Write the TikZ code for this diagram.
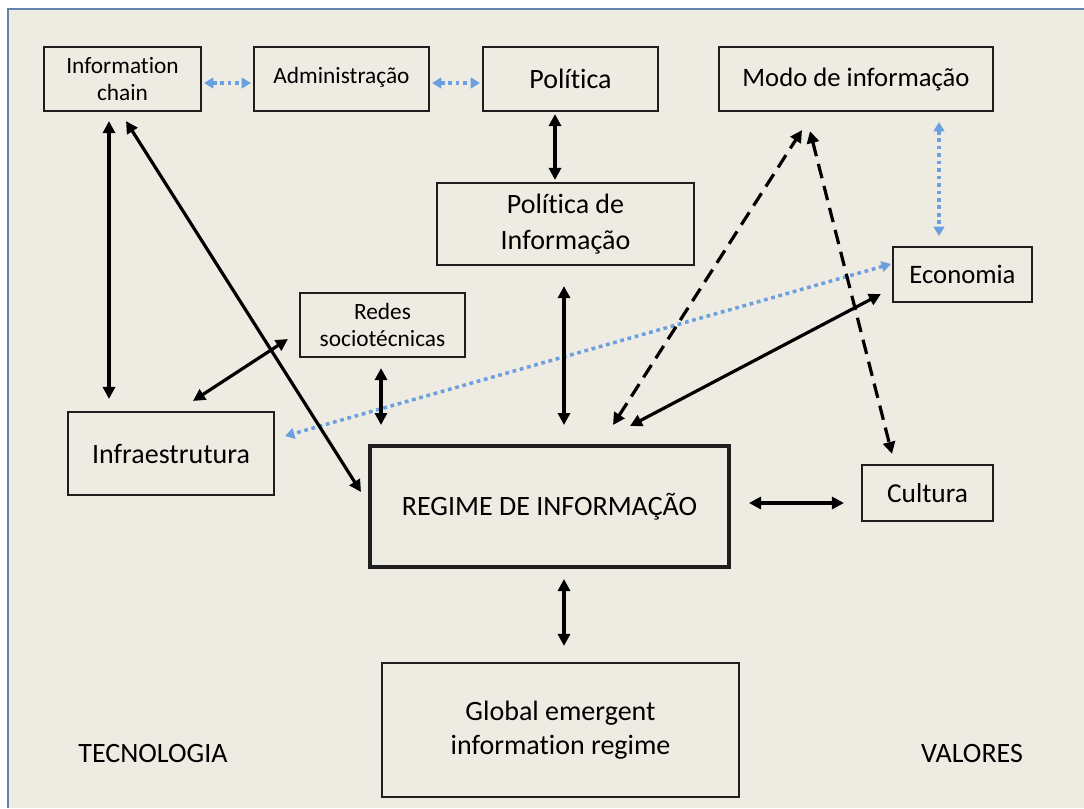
\documentclass[tikz,border=0pt]{standalone}
\usepackage{fontspec}
\setmainfont{Carlito}[Ligatures=NoCommon]
\usetikzlibrary{arrows.meta,calc}
\definecolor{bg}{HTML}{EEEBE3}
\definecolor{framec}{HTML}{6582AA}
\definecolor{bluedot}{HTML}{6A9FE0}
\definecolor{boxc}{HTML}{1E1E1E}
\begin{document}
\begin{tikzpicture}[x=0.75pt,y=-0.75pt,
  box/.style={draw=boxc, line width=1.6pt, inner sep=0pt, align=center, font=\fontsize{21}{27}\selectfont},
  small/.style={font=\fontsize{17.5}{20}\selectfont},
  arr/.style={line width=2.4pt, black, {Triangle[length=9pt,width=9pt]}-{Triangle[length=9pt,width=9pt]}},
  dsh/.style={arr, dash pattern=on 11pt off 6pt},
  bdot/.style={line width=2.6pt, bluedot, dash pattern=on 2.8pt off 2.8pt, {Triangle[length=7pt,width=8pt]}-{Triangle[length=7pt,width=8pt]}},
  lbl/.style={font=\fontsize{21}{25}\selectfont, inner sep=0pt}
]
\useasboundingbox (0,0) rectangle (1084,808);
\fill[white] (0,0) rectangle (1084,808);
\fill[bg] (8,9) rectangle (1084,808);
\draw[framec, line width=1.4pt] (8,808) -- (8,9) -- (1084,9);

% nodes
\node[box, small, minimum width=157*0.75pt, minimum height=64*0.75pt] (ic) at (122.5,79) {Information\\chain};
\node[box, small, minimum width=175*0.75pt, minimum height=64*0.75pt, text depth=6pt] (adm) at (341.5,79) {Administração};
\node[box, minimum width=175*0.75pt, minimum height=64*0.75pt] (pol) at (570.5,79) {Política};
\node[box, font=\fontsize{20}{24}\selectfont, minimum width=274*0.75pt, minimum height=64*0.75pt] (modo) at (856,79) {Modo de informação};
\node[box, minimum width=257*0.75pt, minimum height=82*0.75pt] (pdi) at (565.5,224) {Política de\\Informação};
\node[box, small, minimum width=165*0.75pt, minimum height=64*0.75pt] (redes) at (382.5,325) {Redes\\sociotécnicas};
\node[box, font=\fontsize{20}{24}\selectfont, minimum width=139*0.75pt, minimum height=55*0.75pt] (eco) at (962.5,274.5) {Economia};
\node[box, minimum width=206*0.75pt, minimum height=83*0.75pt] (infra) at (171,453.5) {Infraestrutura};
\node[box, line width=3pt, minimum width=359*0.75pt, minimum height=121*0.75pt] (regime) at (549.5,506.5) {REGIME DE INFORMAÇÃO};
\node[box, font=\fontsize{20.5}{24}\selectfont, minimum width=131*0.75pt, minimum height=56*0.75pt] (cult) at (927.5,493) {Cultura};
\node[box, font=\fontsize{21}{25.5}\selectfont, minimum width=357*0.75pt, minimum height=134*0.75pt] (glob) at (560.5,730) {Global emergent\\information regime};
\node[lbl] (tec) at (153,753) {TECNOLOGIA};
\node[lbl] (val) at (972,753) {VALORES};

% blue dotted connectors
\draw[bdot] ([shift={(2,4)}]ic.east) -- ([shift={(-2,4)}]adm.west);
\draw[bdot] ([shift={(2,4)}]adm.east) -- ([shift={(-2,4)}]pol.west);
\draw[bdot] ([shift={(83,10)}]modo.south) -- ([shift={(-23.5,-10)}]eco.north);
\draw[bdot] ([shift={(-1,-10.5)}]eco.west) -- ([shift={(10,-17.5)}]infra.east);

% solid connectors
\draw[arr] ([shift={(-15.5,2)}]pol.south) -- ([shift={(-10.5,-2)}]pdi.north);
\draw[arr] ([shift={(-13.5,9)}]ic.south) -- ([shift={(-62,-12)}]infra.north);
\draw[arr] ([shift={(3.5,9)}]ic.south) -- ([shift={(-7,-14.5)}]regime.west);
\draw[arr] ([shift={(22,-10)}]infra.north) -- ([shift={(-11,14)}]redes.west);
\draw[arr] ([shift={(-1.5,10)}]redes.south) -- ([shift={(-168.5,-19)}]regime.north);
\draw[arr] ([shift={(-1.5,20)}]pdi.south) -- ([shift={(14.5,-19)}]regime.north);
\draw[arr] ([shift={(80.5,-18)}]regime.north) -- ([shift={(-11,19.5)}]eco.west);
\draw[arr] ([shift={(18,-3.5)}]regime.east) -- ([shift={(-17,10)}]cult.west);
\draw[arr] ([shift={(14.5,10)}]regime.south) -- ([shift={(3.5,-16)}]glob.north);

% dashed connectors
\draw[dsh] ([shift={(63.5,-19)}]regime.north) -- ([shift={(-54,18)}]modo.south);
\draw[dsh] ([shift={(-46,19)}]modo.south) -- ([shift={(-35.5,-10)}]cult.north);
\end{tikzpicture}
\end{document}
